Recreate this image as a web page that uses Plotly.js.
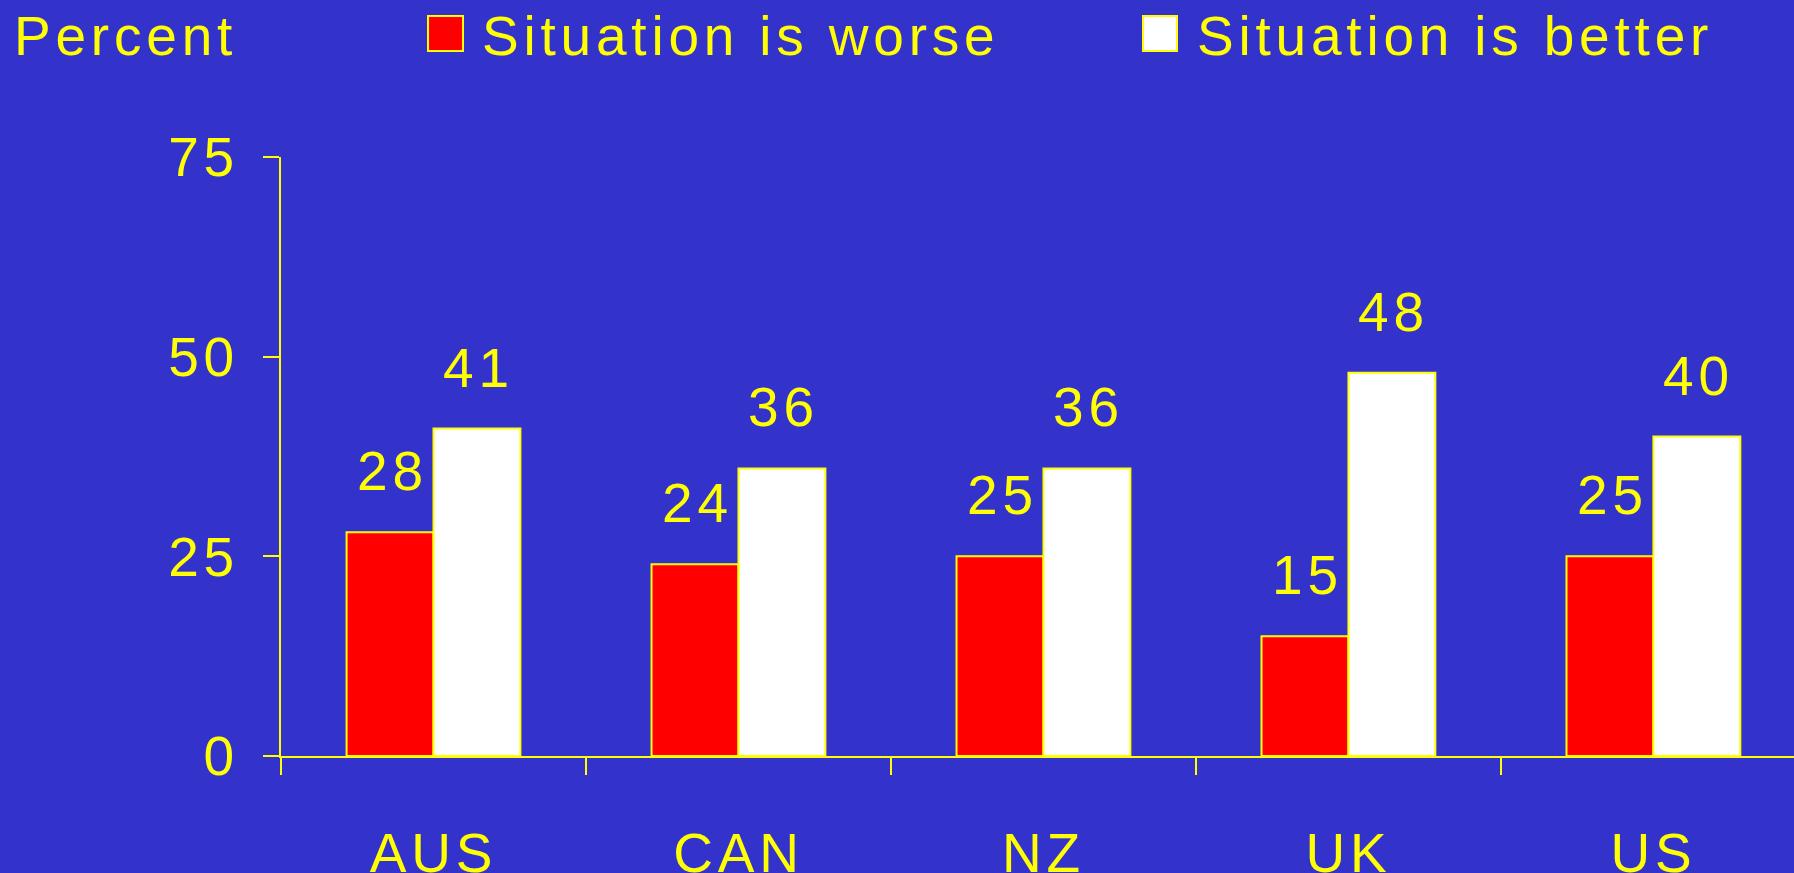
<!DOCTYPE html>
<html><head><meta charset="utf-8">
<script src="https://cdn.plot.ly/plotly-3.0.1.min.js"></script>
<style>
html,body{margin:0;padding:0;background:#3333cc;}
#chart{width:1794px;height:873px;}
text{letter-spacing:4.8px;}
</style>
</head><body>
<div id="chart"></div>
<script>
const countries = ["AUS", "CAN", "NZ", "UK", "US"];
const worse = [28, 24, 25, 15, 25];
const better = [41, 36, 36, 48, 40];
const seriesNames = ["Situation is worse", "Situation is better"];
const yTicks = [0, 25, 50, 75];
const yAxisLabel = "Percent";

const YEL = "#ffff00", BG = "#3333cc";
const FONT = "Liberation Sans, Arial, sans-serif";
const FS = 55;

const W = 1794, H = 873;
const M = {l: 281, r: 0, t: 157, b: 117};
const pw = W - M.l - M.r, ph = H - M.t - M.b;
const px = x => (x - M.l) / pw;
const py = y => (H - M.b - y) / ph;

const traces = [
  {type: "bar", x: countries, y: worse, name: seriesNames[0],
   marker: {color: "#ff0000", line: {color: YEL, width: 2}}, hoverinfo: "skip"},
  {type: "bar", x: countries, y: better, name: seriesNames[1],
   marker: {color: "#ffffff", line: {color: YEL, width: 2}}, hoverinfo: "skip"}
];

const annotations = [];
const groups = [worse, better];
groups.forEach((vals, gi) => {
  vals.forEach((v, i) => {
    annotations.push({x: countries[i], y: v, xref: "x", yref: "y",
      text: String(v), showarrow: false, xanchor: "center", yanchor: "middle",
      xshift: (gi === 0 ? -43 : 43) + 2, yshift: 61,
      font: {family: FONT, size: FS, color: YEL}});
  });
});
annotations.push({x: px(12), y: py(36), xref: "paper", yref: "paper", text: yAxisLabel,
  showarrow: false, xanchor: "left", yanchor: "middle", font: {family: FONT, size: FS, color: YEL}});
annotations.push({x: px(480), y: py(36), xref: "paper", yref: "paper", text: seriesNames[0],
  showarrow: false, xanchor: "left", yanchor: "middle", font: {family: FONT, size: FS, color: YEL}});
annotations.push({x: px(1195), y: py(36), xref: "paper", yref: "paper", text: seriesNames[1],
  showarrow: false, xanchor: "left", yanchor: "middle", font: {family: FONT, size: FS, color: YEL}});

const shapes = [
  {type: "rect", xref: "paper", yref: "paper", x0: px(428), x1: px(463), y0: py(51), y1: py(16),
   fillcolor: "#ff0000", line: {color: YEL, width: 2}},
  {type: "rect", xref: "paper", yref: "paper", x0: px(1143), x1: px(1177), y0: py(51), y1: py(16),
   fillcolor: "#ffffff", line: {color: YEL, width: 2}}
];

const layout = {
  width: W, height: H,
  margin: M,
  paper_bgcolor: BG, plot_bgcolor: BG,
  showlegend: false,
  barmode: "group", bargap: 0.43, bargroupgap: 0,
  font: {family: FONT, size: FS, color: YEL},
  xaxis: {type: "category", range: [-0.5, 4.461], tickson: "boundaries",
    ticks: "outside", ticklen: 17, tickcolor: YEL, tickwidth: 2,
    showline: true, linecolor: YEL, linewidth: 2, showgrid: false, zeroline: false,
    ticklabelstandoff: 48, tickfont: {family: FONT, size: FS, color: YEL}, fixedrange: true},
  yaxis: {range: [0, 75], tickvals: yTicks, ticktext: yTicks.map(String),
    ticks: "outside", ticklen: 16, tickcolor: YEL, tickwidth: 2,
    showline: true, linecolor: YEL, linewidth: 2, showgrid: false, zeroline: false,
    ticklabelstandoff: 13, tickfont: {family: FONT, size: FS, color: YEL}, fixedrange: true},
  annotations, shapes
};

Plotly.newPlot("chart", traces, layout, {displayModeBar: false, staticPlot: true});
</script>
</body></html>
